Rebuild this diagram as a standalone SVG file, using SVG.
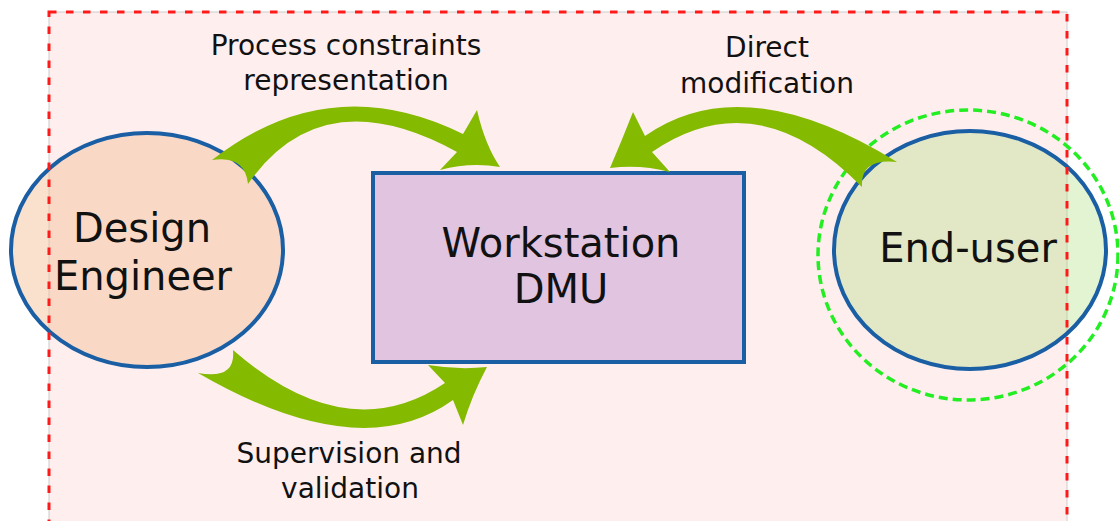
<svg xmlns="http://www.w3.org/2000/svg" width="1119" height="521" viewBox="0 0 1119 521">
<style>
.lbl{font-family:"DejaVu Sans","Liberation Sans",sans-serif;font-size:28px;fill:#111;text-anchor:middle}
.big{font-family:"DejaVu Sans","Liberation Sans",sans-serif;font-size:40px;fill:#111;text-anchor:middle}
.node{stroke:#1A5EA4;stroke-width:4}
.arrow{fill:#84BA00;stroke:none}
</style>
<rect x="0" y="0" width="1119" height="521" fill="#FFFFFF"/>
<rect id="frame-bg" x="49" y="12" width="1018" height="540" fill="#FFEEEE" stroke="#CCCCCC" stroke-width="1"/>
<g id="design-engineer">
<ellipse class="node" cx="147" cy="250" rx="136" ry="117" fill="#F3C49E" fill-opacity="0.5"/>
<text class="big" x="142" y="242">Design</text>
<text class="big" x="143" y="290">Engineer</text>
</g>
<g id="workstation">
<rect class="node" x="373" y="173" width="371" height="189" fill="#E0C4E0" stroke-width="3.5"/>
<text class="big" x="561" y="257">Workstation</text>
<text class="big" x="561" y="303">DMU</text>
</g>
<g id="end-user">
<ellipse cx="968" cy="255" rx="150" ry="145" fill="none" stroke="#22EE22" stroke-width="3.5" stroke-dasharray="9 5"/>
<ellipse class="node" cx="970" cy="250" rx="136" ry="119" fill="#9FDA69" fill-opacity="0.3"/>
<text class="big" x="968" y="262">End-user</text>
</g>
<g id="connectors">
<path class="arrow" d="M212 160 Q330 68 463 134 L477 110 Q485 145 500 167 Q470 162 440 170 L457 152 Q322 78 248 184 Q245 155 212 160 Z"/>
<path class="arrow" d="M897 162 Q743 67 645 136 L633 112 Q622 140 610 168 Q640 164 670 172 L652 152 Q757 80 862 187 Q860 158 897 162 Z"/>
<path class="arrow" d="M233 350 Q236 380 198 373 Q360 467 453 400 L463 425 Q472 395 487 367 Q458 370 428 365 L445 383 Q347 449 233 350 Z"/>
</g>
<g id="labels">
<text class="lbl" x="346" y="55">Process constraints</text>
<text class="lbl" x="346" y="90">representation</text>
<text class="lbl" x="767" y="57">Direct</text>
<text class="lbl" x="767" y="93">modification</text>
<text class="lbl" x="349" y="463">Supervision and</text>
<text class="lbl" x="350" y="498">validation</text>
</g>
<rect id="frame-border" x="49" y="12" width="1018" height="540" fill="none" stroke="#FF1A1A" stroke-width="3" stroke-dasharray="7.5 9.5"/>
</svg>
